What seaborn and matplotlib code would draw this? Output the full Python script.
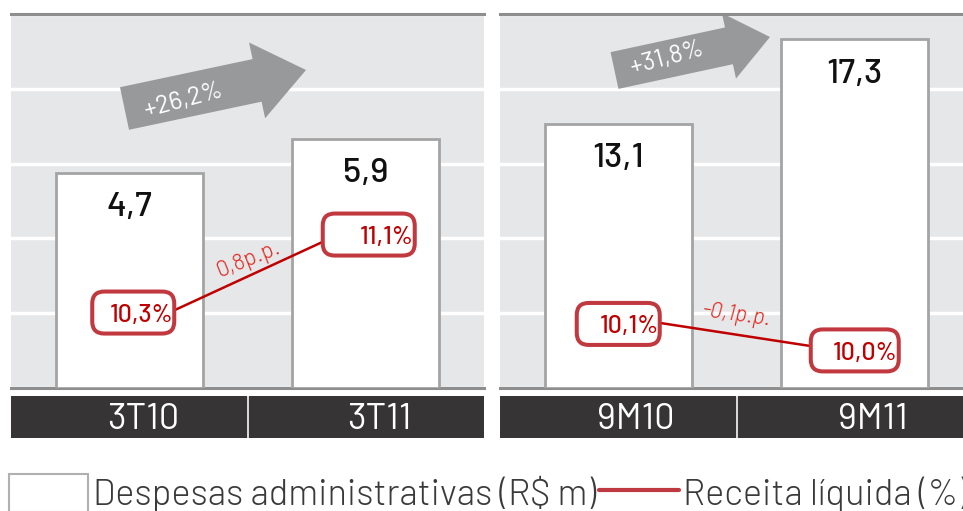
import numpy as np
import matplotlib
matplotlib.use("Agg")
import matplotlib.pyplot as plt
import matplotlib.patches as mpatches
import matplotlib.transforms as mtransforms
from matplotlib.lines import Line2D
import seaborn as sns

# dados
periodos_3t = ["3T10", "3T11"]
periodos_9m = ["9M10", "9M11"]
despesas_3t = [4.7, 5.9]
despesas_9m = [13.1, 17.3]
receita_3t = [10.3, 11.1]
receita_9m = [10.1, 10.0]
var_despesas = ["+26,2%", "+31,8%"]
var_receita = ["0,8p.p.", "-0,1p.p."]

W, H = 963, 511
CINZA_FUNDO = "#e6e7e9"
VERMELHO = "#c00000"
BORDA_CAIXA = "#c1393f"

sns.set_style("darkgrid", {"axes.facecolor": CINZA_FUNDO, "grid.color": "white"})
plt.rcParams["font.family"] = ["Barlow", "DejaVu Sans"]

fig = plt.figure(figsize=(W / 100, H / 100), dpi=100)
fig.patch.set_facecolor("white")

# coordenadas em pixels (origem no canto superior esquerdo) -> figura
pix = mtransforms.Affine2D().scale(1 / W, -1 / H).translate(0, 1) + fig.transFigure


def fmt(v):
    return f"{v:.1f}".replace(".", ",")


def painel(left, cats, despesas, receita, ylim, ylim_pct, box_off, box_w, cat_dx, seta, seta_txt, txt_var):
    ax = fig.add_axes([left / W, (H - 388) / H, 473 / W, 374 / H])
    sns.barplot(x=cats, y=despesas, ax=ax, color="white", edgecolor="#a4a4a4",
                linewidth=2, width=0.62, saturation=1, zorder=3)
    # barras partem da base do painel
    for p, v in zip(ax.patches, despesas):
        p.set_y(ylim[0])
        p.set_height(v - ylim[0])
    ax.set_ylim(ylim)
    ax.set_yticks(np.linspace(ylim[0], ylim[1], 6))
    ax.tick_params(length=0, labelleft=False, labelbottom=False)
    ax.grid(axis="y", color="white", lw=2.5)
    ax.grid(axis="x", visible=False)
    ax.set_axisbelow(True)
    ax.set_xlabel("")
    ax.set_ylabel("")
    for s in ["left", "right"]:
        ax.spines[s].set_visible(False)
    for s in ["top", "bottom"]:
        ax.spines[s].set_visible(True)
        ax.spines[s].set_color("#8e8e8e")
        ax.spines[s].set_linewidth(2.2)

    for i, v in enumerate(despesas):
        ax.annotate(fmt(v), xy=(i, v), xytext=(0, -35), textcoords="offset pixels",
                    ha="center", va="center", fontsize=25, fontweight=500,
                    color="#111111", zorder=5)

    # seta de variacao
    x0, y0, x1, y1, w, hw, hl = seta
    ar = mpatches.FancyArrow(x0, y0, x1 - x0, y1 - y0, width=w, head_width=hw, head_length=hl,
                             length_includes_head=True, transform=pix, color="#98999b",
                             lw=0, zorder=2)
    ax.add_patch(ar)
    ax.text(seta_txt[0], seta_txt[1], txt_var, transform=pix, rotation=15,
            rotation_mode="anchor", ha="center", va="center", color="white", fontsize=18, zorder=3)

    # receita liquida (%)
    tw = ax.twinx()
    sns.lineplot(x=[0, 1], y=receita, ax=tw, color=VERMELHO, lw=1.8, zorder=3)
    tw.set_ylim(ylim_pct)
    for i, v in enumerate(receita):
        ox, oy = box_off[i]
        bw, bh = box_w[i], 42
        tr = mtransforms.Affine2D().translate(ox, oy) + mtransforms.ScaledTranslation(i, v, tw.transData)
        caixa = mpatches.FancyBboxPatch((-bw / 2, -bh / 2), bw, bh,
                                        boxstyle="round,pad=0,rounding_size=12", transform=tr,
                                        fc="white", ec=BORDA_CAIXA, lw=2.9, zorder=4)
        tw.add_patch(caixa)
        tw.annotate(fmt(v) + "%", xy=(i, v), xytext=(ox + bw / 2 - 1, oy - 3),
                    textcoords="offset pixels", ha="right", va="center",
                    color=VERMELHO, fontsize=18, fontweight=500, zorder=5)
    tw.axis("off")
    ax.set_xlim(-0.5, 1.5)

    # faixa com os periodos
    sax = fig.add_axes([left / W, (H - 438) / H, 473 / W, 42 / H])
    sax.set_xlim(-0.5, 1.5)
    sax.set_ylim(0, 1)
    sax.axis("off")
    sax.axvspan(-0.5, 0.495, color="#363435")
    sax.axvspan(0.505, 1.5, color="#363435")
    for i, c in enumerate(cats):
        sax.annotate(c, xy=(i, 0.5), xytext=(cat_dx, -2), textcoords="offset pixels",
                     ha="center", va="center", color="white", fontsize=26, fontweight=400)
    return ax


painel(11, periodos_3t, despesas_3t, receita_3t, (-2.89, 10.31), (9.882, 12.627),
       [(4, 18.5), (3, -12.5)], [82, 92], 14,
       (124.5, 108.5, 306, 70, 43.5, 77.5, 50), (183, 100), var_despesas[0])
painel(500, periodos_9m, despesas_9m, receita_9m, (0, 18.54), (9.903, 10.934),
       [(0, -7.4), (0, 2.4)], [83, 88], 18,
       (614.5, 70.5, 770, 37, 37.6, 67, 42), (667, 58), var_despesas[1])

# variacao em p.p.
fig.text(248, 260, var_receita[0], transform=pix, rotation=22, rotation_mode="anchor",
         ha="center", va="center", color="#e2231a", fontsize=16, fontweight=300)
fig.text(737, 315, var_receita[1], transform=pix, rotation=-8, rotation_mode="anchor",
         ha="center", va="center", color="#e2231a", fontsize=16, fontweight=300, style="italic")

# legenda
handles = [mpatches.Patch(facecolor="white", edgecolor="#b0b0b0", lw=1.5),
           Line2D([], [], color="#be3a40", lw=3)]
fig.legend(handles=handles, labels=["Despesas administrativas (R$ m)", "Receita líquida (%)"],
           loc="center left", bbox_to_anchor=(9 / W, (H - 493) / H), ncol=2, frameon=False,
           prop={"size": 26, "weight": 300}, handlelength=2.2, handleheight=1.25,
           handletextpad=0.12, columnspacing=0.1, borderpad=0, borderaxespad=0,
           labelcolor="#3a3a3a")

fig.savefig("out.png", dpi=100, facecolor="white")
